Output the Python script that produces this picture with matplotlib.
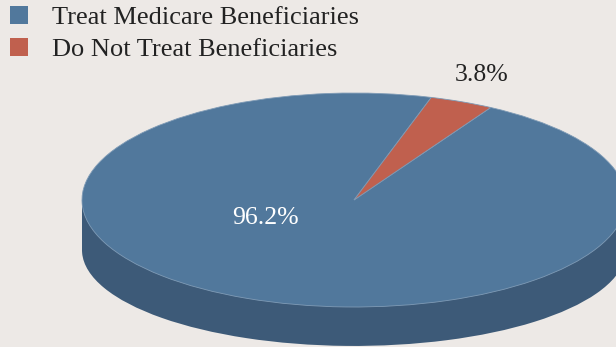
import matplotlib.pyplot as plt
from matplotlib.patches import Rectangle, Patch
from matplotlib.transforms import Affine2D

# data
categories = ["Treat Medicare Beneficiaries", "Do Not Treat Beneficiaries"]
shares = [96.2, 3.8]
pct_labels = ["96.2%", "3.8%"]

top_colors = ["#51789c", "#c0604e"]
side_colors = ["#3d5a78", "#8f4638"]
bg = "#ede9e6"

plt.rcParams['font.family'] = ['Liberation Serif', 'DejaVu Serif']

fig = plt.figure(figsize=(6.16, 3.47), dpi=100, facecolor=bg)
ax = fig.add_axes([0, 0, 1, 1])
ax.set_facecolor(bg)

# the pie is a unit circle squashed into an ellipse by the axis limits
depth = 0.467
bottom_squash = 0.897   # bottom face looks a bit flatter (perspective)
start = 73.5

# bottom face and side of the "3d" disc
low, _ = ax.pie(shares, colors=side_colors, startangle=start, counterclock=True,
                center=(0, 0), radius=1, wedgeprops=dict(linewidth=0))
for w in low:
    w.set_transform(Affine2D().scale(1, bottom_squash).translate(0, -depth)
                    + ax.transData)
ax.add_patch(Rectangle((-1, -depth), 2, depth, facecolor=side_colors[0],
                       edgecolor="none", zorder=0.5))
# top face
wedges, _ = ax.pie(shares, colors=top_colors, startangle=start,
                   counterclock=True, center=(0, 0), radius=1,
                   wedgeprops=dict(linewidth=0.6, edgecolor="#7f9bb6"))
for w in wedges:
    w.set_zorder(2)

ax.set_aspect('auto')
ax.set_xlim(-354 / 272, (616 - 354) / 272)
ax.set_ylim(-147 / 107, 200 / 107)
ax.axis('off')

# percentage labels
ax.text(-0.327, -0.168, pct_labels[0], color="white", fontsize=18.5,
        ha="center", va="center", zorder=5)
ax.text(0.47, 1.17, pct_labels[1], color="#222222", fontsize=18.5,
        ha="center", va="center", zorder=5)

# legend
handles = [Patch(facecolor=c, edgecolor="none") for c in top_colors]
fig.legend(handles, categories, loc="upper left",
           bbox_to_anchor=(10 / 616, 1 - 6 / 347),
           frameon=False, fontsize=19, handlelength=0.68, handleheight=0.68,
           handletextpad=0.9, labelspacing=0.32, borderaxespad=0.0,
           borderpad=0.0, labelcolor="#222222")

fig.savefig("out.png", dpi=100, facecolor=bg)
